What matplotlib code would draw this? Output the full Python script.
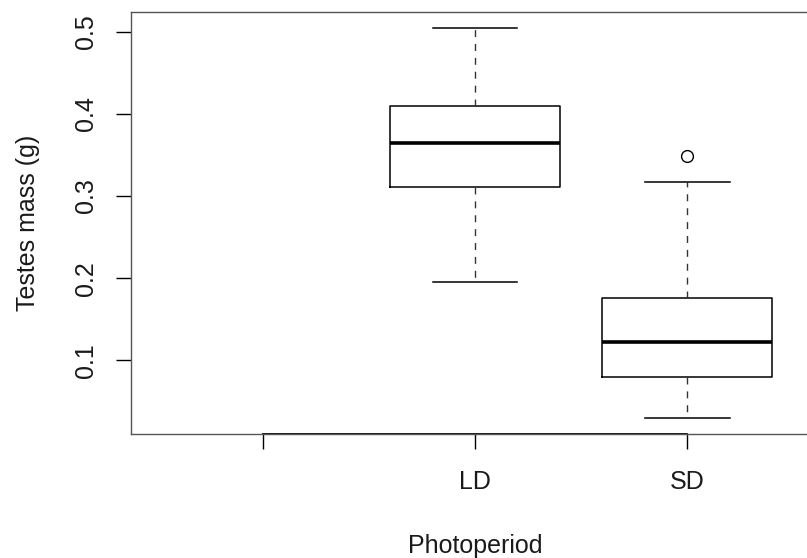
import matplotlib
matplotlib.use("Agg")
import matplotlib.pyplot as plt

# Values
categories = ["", "LD", "SD"]
group_names = ["LD", "SD"]
whisker_low = [0.195, 0.0295]
box_low = [0.3115, 0.0797]
medians = [0.3644, 0.1219]
box_high = [0.4094, 0.1758]
whisker_high = [0.5049, 0.3176]
outliers = [[], [0.3484]]
y_ticks = [0.1, 0.2, 0.3, 0.4, 0.5]

plt.rcParams["font.family"] = ["Liberation Sans", "DejaVu Sans"]

W, H = 807, 558
fig = plt.figure(figsize=(W / 100, H / 100), dpi=100)
# plot frame: left 131px, top 12px, bottom 434px; right edge falls outside the image
ax = fig.add_axes([131 / W, (H - 434) / H, (819 - 131) / W, (434 - 12) / H])

stats = []
for i, name in enumerate(group_names):
    stats.append({
        "label": name,
        "whislo": whisker_low[i],
        "q1": box_low[i],
        "med": medians[i],
        "q3": box_high[i],
        "whishi": whisker_high[i],
        "fliers": outliers[i],
    })

positions = [categories.index(n) + 1 for n in group_names]
ax.bxp(
    stats,
    positions=positions,
    widths=0.8,
    capwidths=0.4,
    boxprops=dict(color="black", linewidth=1.1),
    medianprops=dict(color="black", linewidth=2.6, solid_capstyle="butt"),
    whiskerprops=dict(color="#333333", linewidth=1.0, linestyle=(0, (5, 5))),
    capprops=dict(color="black", linewidth=1.1),
    flierprops=dict(marker="o", markerfacecolor="none", markeredgecolor="black",
                    markersize=8.5, markeredgewidth=1.0),
    manage_ticks=False,
)

ax.set_xlim(0.38, 3.62)
ax.set_ylim(0.0105, 0.5239)

ax.set_xticks(range(1, len(categories) + 1))
ax.set_xticklabels(categories)
ax.set_yticks(y_ticks)
ax.set_yticklabels([f"{t:.1f}" for t in y_ticks], rotation=90, va="center")

ax.tick_params(axis="both", length=11, width=1.0, color="black",
               labelsize=18, pad=13, labelcolor="#1a1a1a")
ax.tick_params(axis="x", pad=15)
for s in ax.spines.values():
    s.set_color("#555555")
    s.set_linewidth(1.0)

# R draws the axis line between the first and last tick
ax.plot([1, 3], [0.0105, 0.0105], color="black", linewidth=1.3, clip_on=False)

ax.set_xlabel("Photoperiod", fontsize=18, labelpad=29, color="#1a1a1a")
ax.set_ylabel("Testes mass (g)", fontsize=18, labelpad=24, color="#1a1a1a")

fig.savefig("out.png", dpi=100)
plt.close(fig)
